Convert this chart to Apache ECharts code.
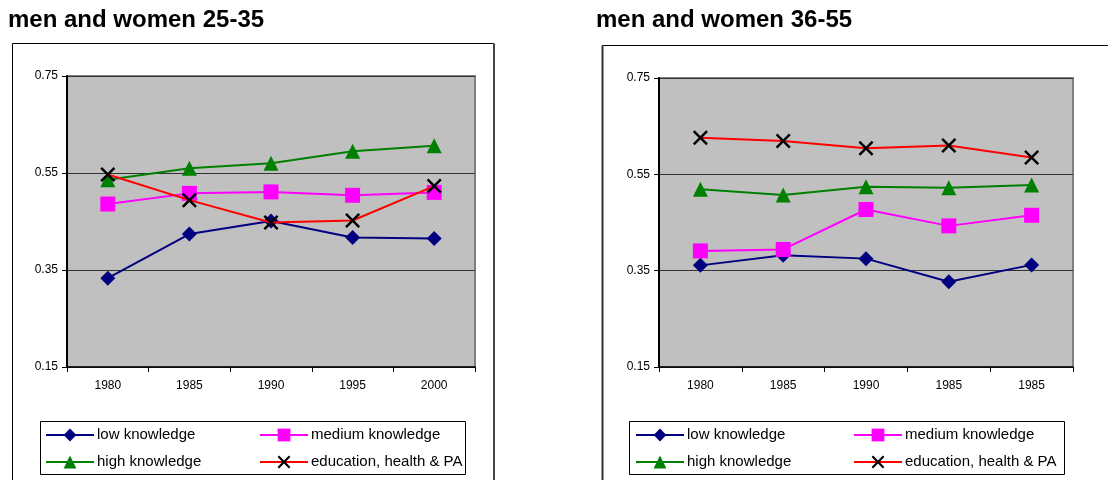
<!DOCTYPE html>
<html>
<head>
<meta charset="utf-8">
<style>
  html, body { margin: 0; padding: 0; background: #fff; }
  #chart { width: 1108px; height: 480px; }
</style>
<script src="https://cdn.jsdelivr.net/npm/echarts@6/dist/echarts.min.js"></script>
</head>
<body>
<div id="chart"></div>
<script>
// Category labels for each panel
const yearsYoung = ['1980', '1985', '1990', '1995', '2000'];
const yearsOlder = ['1980', '1985', '1990', '1985', '1985'];

// Value-axis ticks shared by both panels
const yTicks = [0.15, 0.35, 0.55, 0.75];

// Panel titles and series names
const panelTitles = ['men and women 25-35', 'men and women 36-55'];
const seriesNames = ['low knowledge', 'medium knowledge', 'high knowledge', 'education, health & PA'];

// men and women 25-35
const lowYoung  = [0.333, 0.424, 0.451, 0.417, 0.415];
const medYoung  = [0.486, 0.508, 0.511, 0.504, 0.510];
const highYoung = [0.536, 0.560, 0.570, 0.595, 0.606];
const eduYoung  = [0.547, 0.494, 0.448, 0.452, 0.523];

// men and women 36-55
const lowOlder  = [0.361, 0.382, 0.375, 0.327, 0.362];
const medOlder  = [0.391, 0.394, 0.477, 0.443, 0.465];
const highOlder = [0.519, 0.507, 0.524, 0.522, 0.528];
const eduOlder  = [0.626, 0.619, 0.604, 0.610, 0.585];

const FONT = '"Liberation Sans", Arial, sans-serif';
// filled X-shaped marker
const CROSS = 'path://M0,1.4L1.4,0L6,4.6L10.6,0L12,1.4L7.4,6L12,10.6L10.6,12L6,7.4L1.4,12L0,10.6L4.6,6Z';

const styles = [
  { line: '#000080', mark: '#000080', symbol: 'diamond', size: 15 },
  { line: '#FF00FF', mark: '#FF00FF', symbol: 'rect', size: 15 },
  { line: '#008000', mark: '#008000', symbol: 'triangle', size: 15 },
  { line: '#FF0000', mark: '#000000', symbol: CROSS, size: 15 }
];

const panels = [
  { cats: yearsYoung, data: [lowYoung, medYoung, highYoung, eduYoung],
    grid: { left: 67, top: 76, width: 408, height: 291 },
    box: { x: 12.5, y: 43.5, w: 481, h: 460 },
    legendBox: { x: 40.5, y: 421.5, w: 425, h: 53 },
    legendCols: [45, 259], title: { x: 8 } },
  { cats: yearsOlder, data: [lowOlder, medOlder, highOlder, eduOlder],
    grid: { left: 659, top: 78, width: 414, height: 289 },
    box: { x: 602.5, y: 45.5, w: 520, h: 460 },
    legendBox: { x: 629.5, y: 421.5, w: 435, h: 53 },
    legendCols: [635, 853], title: { x: 596 } }
];

const grids = [], xAxes = [], yAxes = [], series = [], legends = [], graphics = [];

panels.forEach((p, i) => {
  // outer chart frame, title and legend frame
  graphics.push({
    type: 'rect', z: -10, silent: true,
    shape: { x: p.box.x, y: p.box.y, width: p.box.w, height: p.box.h },
    style: { fill: '#fff', stroke: '#000', lineWidth: 1 }
  });
  if (i === 0) {
    graphics.push({
      type: 'line', z: -9, silent: true,
      shape: { x1: p.box.x + p.box.w + 0.5, y1: p.box.y, x2: p.box.x + p.box.w + 0.5, y2: 490 },
      style: { stroke: '#444', lineWidth: 2 }
    });
  } else {
    graphics.push({
      type: 'line', z: -9, silent: true,
      shape: { x1: p.box.x, y1: p.box.y, x2: p.box.x, y2: 490 },
      style: { stroke: '#333', lineWidth: 2 }
    });
  }
  graphics.push({
    type: 'text', silent: true,
    x: p.title.x, y: 20,
    style: { text: panelTitles[i], font: 'bold 24px ' + FONT, fill: '#000', verticalAlign: 'middle' }
  });
  graphics.push({
    type: 'rect', z: -5, silent: true,
    shape: { x: p.legendBox.x, y: p.legendBox.y, width: p.legendBox.w, height: p.legendBox.h },
    style: { fill: '#fff', stroke: '#000', lineWidth: 1 }
  });

  grids.push(Object.assign({
    show: true, backgroundColor: '#C0C0C0', borderColor: '#808080', borderWidth: 2
  }, p.grid));

  xAxes.push({
    type: 'category', gridIndex: i, data: p.cats, boundaryGap: true,
    axisLine: { lineStyle: { color: '#000', width: 1.5 } },
    axisTick: { show: true, length: 5, lineStyle: { color: '#000' } },
    axisLabel: { color: '#000', fontSize: 12, fontFamily: FONT, margin: 13 },
    splitLine: { show: false }
  });

  yAxes.push({
    type: 'value', gridIndex: i,
    min: yTicks[0], max: yTicks[yTicks.length - 1], interval: yTicks[1] - yTicks[0],
    axisLine: { show: true, lineStyle: { color: '#000', width: 2 } },
    axisTick: { show: true, length: 5, lineStyle: { color: '#000' } },
    axisLabel: { color: '#000', fontSize: 12, fontFamily: FONT, margin: 9,
                 formatter: v => v.toFixed(2) },
    splitLine: { show: true, lineStyle: { color: '#333', width: 1 } }
  });

  p.data.forEach((vals, k) => {
    const s = styles[k];
    series.push({
      type: 'line', name: seriesNames[k], xAxisIndex: i, yAxisIndex: i,
      data: vals, symbol: s.symbol, symbolSize: s.size, showAllSymbol: true,
      lineStyle: { color: s.line, width: 2 },
      itemStyle: { color: s.mark },
      emphasis: { disabled: true }, z: 2 + k
    });
  });

  const cols = [[seriesNames[0], seriesNames[2]], [seriesNames[1], seriesNames[3]]];
  cols.forEach((names, c) => {
    legends.push({
      data: names, orient: 'vertical', left: p.legendCols[c], top: 427,
      padding: 0, itemGap: 11, itemWidth: 48, itemHeight: 16,
      selectedMode: false,
      textStyle: { color: '#000', fontSize: 15, fontFamily: FONT, lineHeight: 16,
                   padding: [0, 0, 0, -2] }
    });
  });
});

const chart = echarts.init(document.getElementById('chart'), null, { renderer: 'canvas' });
chart.setOption({
  animation: false,
  backgroundColor: '#fff',
  graphic: graphics,
  grid: grids,
  xAxis: xAxes,
  yAxis: yAxes,
  legend: legends,
  series: series
});
</script>
</body>
</html>
